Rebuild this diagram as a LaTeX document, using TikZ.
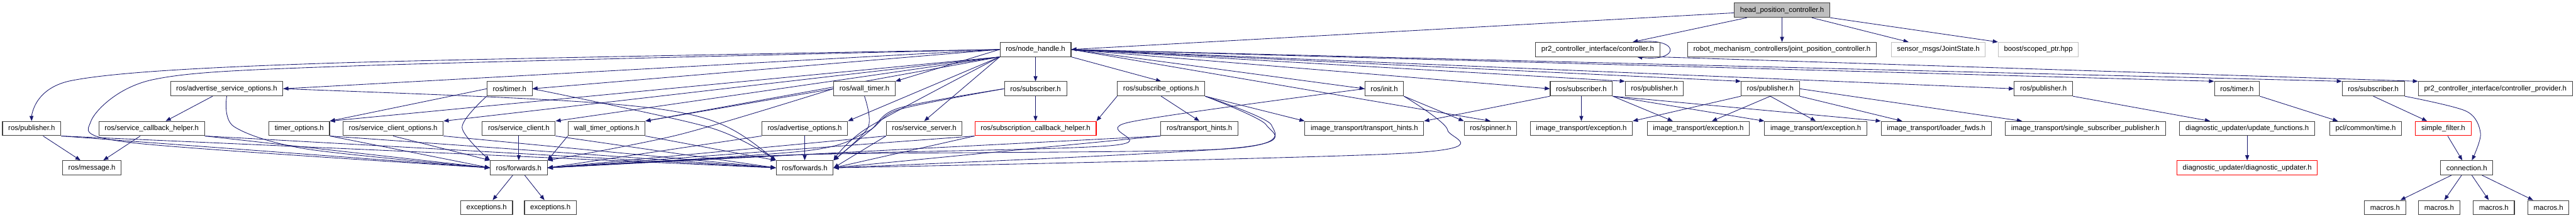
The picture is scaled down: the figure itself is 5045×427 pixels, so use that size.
\documentclass[tikz,border=0pt]{standalone}
\usepackage{fontspec}
\setmainfont{Liberation Sans}
\usetikzlibrary{arrows.meta,backgrounds}
\definecolor{edgeblue}{RGB}{25,25,112}
\definecolor{boxgray}{RGB}{191,191,191}

\begin{document}
\begin{tikzpicture}[x=0.3mm,y=-0.3mm,
  hdr/.style={draw=black!75,line width=1.1pt,fill=white,font=\fontsize{12}{14}\selectfont,
    inner xsep=3.4mm,inner ysep=0pt,minimum height=8.4mm},
  extern/.style={hdr,draw=boxgray},
  missing/.style={hdr,draw=red},
  dep/.style={edgeblue,line width=0.9pt,-{Triangle[length=3mm,width=2.3mm]}}]
  \useasboundingbox (0,0) rectangle (5045,427);

  \node[hdr,fill=boxgray] (hpc) at (3490,20) {head\_position\_controller.h};

  \node[hdr] (nh) at (2028,97) {ros/node\_handle.h};
  \node[hdr] (ctrl) at (3129,97) {pr2\_controller\_interface/controller.h};
  \node[hdr] (jpc) at (3490,97) {robot\_mechanism\_controllers/joint\_position\_controller.h};
  \node[extern] (jstate) at (3796,97) {sensor\_msgs/JointState.h};
  \node[extern] (sptr) at (3992,97) {boost/scoped\_ptr.hpp};

  \node[hdr] (aso) at (444,174) {ros/advertise\_service\_options.h};
  \node[hdr] (tmrA) at (998,174) {ros/timer.h};
  \node[hdr] (wtmr) at (1693,174) {ros/wall\_timer.h};
  \node[hdr] (subA) at (2028,174) {ros/subscriber.h};
  \node[hdr] (subopt) at (2274,174) {ros/subscribe\_options.h};
  \node[hdr] (rinit) at (2711,174) {ros/init.h};
  \node[hdr] (subB) at (3097,174) {ros/subscriber.h};
  \node[hdr] (pubB) at (3240,174) {ros/publisher.h};
  \node[hdr] (pubC) at (3467,174) {ros/publisher.h};
  \node[hdr] (pubD) at (4002,174) {ros/publisher.h};
  \node[hdr] (tmrB) at (4381,174) {ros/timer.h};
  \node[hdr] (subC) at (4648,174) {ros/subscriber.h};
  \node[hdr] (cprov) at (4887,174) {pr2\_controller\_interface/controller\_provider.h};

  \node[hdr] (pubA) at (62,252) {ros/publisher.h};
  \node[hdr] (srvcb) at (297,252) {ros/service\_callback\_helper.h};
  \node[hdr] (tmropt) at (586,252) {timer\_options.h};
  \node[hdr] (sclopt) at (770,252) {ros/service\_client\_options.h};
  \node[hdr] (scl) at (1016,252) {ros/service\_client.h};
  \node[hdr] (wtmropt) at (1188,252) {wall\_timer\_options.h};
  \node[hdr] (advopt) at (1576,252) {ros/advertise\_options.h};
  \node[hdr] (ssrv) at (1810,252) {ros/service\_server.h};
  \node[missing] (subcb) at (2028,252) {ros/subscription\_callback\_helper.h};
  \node[hdr] (rth) at (2349,252) {ros/transport\_hints.h};
  \node[hdr] (ith) at (2672,252) {image\_transport/transport\_hints.h};
  \node[hdr] (spin) at (2919,252) {ros/spinner.h};
  \node[hdr] (itexA) at (3097,252) {image\_transport/exception.h};
  \node[hdr] (itexB) at (3326,252) {image\_transport/exception.h};
  \node[hdr] (itexC) at (3556,252) {image\_transport/exception.h};
  \node[hdr] (ldr) at (3792,252) {image\_transport/loader\_fwds.h};
  \node[hdr] (ssp) at (4084,252) {image\_transport/single\_subscriber\_publisher.h};
  \node[hdr] (updfn) at (4401,252) {diagnostic\_updater/update\_functions.h};
  \node[hdr] (pcltime) at (4633,252) {pcl/common/time.h};
  \node[missing] (sfilt) at (4785,252) {simple\_filter.h};

  \node[hdr] (msg) at (180,329) {ros/message.h};
  \node[hdr] (fwdA) at (1016,329) {ros/forwards.h};
  \node[hdr] (fwdB) at (1576,329) {ros/forwards.h};
  \node[missing] (diag) at (4401,329) {diagnostic\_updater/diagnostic\_updater.h};
  \node[hdr] (conn) at (4831,329) {connection.h};

  \node[hdr] (exc1) at (953,407) {exceptions.h};
  \node[hdr] (exc2) at (1078,407) {exceptions.h};
  \foreach \i/\x in {1/4671,2/4777,3/4884,4/4991}
    \node[hdr] (mac\i) at (\x,407) {macros.h};

  \begin{scope}[on background layer]
  \draw[dep] (hpc) -- (nh.east);
  \draw[dep] (hpc) -- (ctrl);
  \draw[dep] (hpc) -- (jpc);
  \draw[dep] (hpc) -- (jstate);
  \draw[dep] (hpc.south east) -- (sptr.north west);
  \draw[dep] ([xshift=-13.5mm]ctrl.north east) .. controls +(85,-10) and +(85,10) .. ([xshift=-13.5mm]ctrl.south east);
  \draw[dep] (ctrl.south east) -- (cprov.north west);

  \draw[dep] plot[smooth] coordinates {(nh.west) (640,124) (140,158) (pubA.north)};
  \draw[dep] plot[smooth] coordinates {(nh.west) (700,129) (300,156) (178,238) (260,280) (fwdA.west)};
  \draw[dep] plot[smooth] coordinates {(nh.south west) (1700,250) (fwdB.north east)};
  \draw[dep] (nh.west) -- (aso.east);
  \draw[dep] (nh.west) -- (tmrA.east);
  \draw[dep] (nh.west) -- (wtmr.north east);
  \draw[dep] (nh.south west) -- (tmropt.north east);
  \draw[dep] (nh.south west) -- (sclopt.north east);
  \draw[dep] (nh.south west) -- (scl.north east);
  \draw[dep] (nh.south west) -- (wtmropt.north east);
  \draw[dep] (nh.south west) -- (advopt.north east);
  \draw[dep] (nh.south west) -- (ssrv.north);
  \draw[dep] (nh) -- (subA);
  \draw[dep] (nh.south east) -- (subopt.north);
  \draw[dep] (nh.east) -- (rinit.west);
  \draw[dep] (nh.east) -- (spin.north);
  \draw[dep] (nh.east) -- (subB.west);
  \draw[dep] (nh.east) -- (pubB.north west);
  \draw[dep] (nh.east) -- (pubC.north west);
  \draw[dep] (nh.east) -- (pubD.west);
  \draw[dep] (nh.east) -- (tmrB.north west);
  \draw[dep] (nh.east) -- (subC.north west);

  \draw[dep] (aso) -- (srvcb);
  \draw[dep] plot[smooth] coordinates {(aso.south) (458,248) (600,292) (fwdA.west)};
  \draw[dep] (aso.east) .. controls (1380,205) .. (fwdB.north west);
  \draw[dep] (pubA) -- (msg);
  \draw[dep] (pubA.south east) -- (fwdA.west);
  \draw[dep] (pubA.south east) -- (fwdB.west);
  \draw[dep] (srvcb) -- (msg);
  \draw[dep] (srvcb.south east) -- (fwdA.west);
  \draw[dep] (srvcb.south east) -- (fwdB.west);
  \draw[dep] (tmrA.west) -- (tmropt.north east);
  \draw[dep] plot[smooth] coordinates {(tmrA.south west) (905,250) (fwdA.north west)};
  \draw[dep] plot[smooth] coordinates {(tmrA.east) (1390,250) (fwdB.north west)};
  \draw[dep] (tmropt.south east) -- (fwdA.west);
  \draw[dep] (tmropt.south east) -- (fwdB.west);
  \draw[dep] (sclopt.south) -- (fwdA.north west);
  \draw[dep] (sclopt.south east) -- (fwdB.west);
  \draw[dep] (scl) -- (fwdA);
  \draw[dep] (scl.south east) -- (fwdB.west);
  \draw[dep] (wtmropt.south west) -- (fwdA.north east);
  \draw[dep] (wtmropt.south east) -- (fwdB.north west);
  \draw[dep] (wtmr.west) -- (wtmropt.north east);
  \draw[dep] plot[smooth] coordinates {(wtmr.west) (1330,264) (fwdA.north east)};
  \draw[dep] plot[smooth] coordinates {(wtmr.south) (1700,250) (fwdB.north east)};
  \draw[dep] (advopt) -- (fwdB);
  \draw[dep] (advopt.south west) -- (fwdA.east);
  \draw[dep] (ssrv.south west) -- (fwdB.east);
  \draw[dep] (ssrv.south west) -- (fwdA.east);
  \draw[dep] (subA) -- (subcb);
  \draw[dep] plot[smooth] coordinates {(subA.west) (1760,215) (1698,258) (1576,296) (fwdA.east)};
  \draw[dep] plot[smooth] coordinates {(subA.west) (1760,212) (1705,255) (fwdB.north east)};
  \draw[dep] (subopt.south west) -- (subcb.north east);
  \draw[dep] (subopt.south) -- (rth.north);
  \draw[dep] (subopt.south east) -- (ith.north west);
  \draw[dep] plot[smooth] coordinates {(subopt.south east) (2480,245) (2420,290) (fwdB.east)};
  \draw[dep] plot[smooth] coordinates {(subopt.south east) (2490,245) (2400,292) (1576,303) (fwdA.east)};
  \draw[dep] (subcb.south west) -- (fwdB.east);
  \draw[dep] (subcb.south west) -- (fwdA.east);
  \draw[dep] (rth.south west) -- (fwdB.east);
  \draw[dep] (rth.south west) -- (fwdA.east);
  \draw[dep] (rinit.south east) -- (spin.north west);
  \draw[dep] plot[smooth] coordinates {(rinit.south east) (2835,255) (2760,300) (fwdB.east)};
  \draw[dep] plot[smooth] coordinates {(rinit.west) (2210,240) (2180,285) (1576,303) (fwdA.east)};
  \draw[dep] (fwdA) -- (exc1);
  \draw[dep] (fwdA) -- (exc2);

  \draw[dep] (subB) -- (itexA);
  \draw[dep] (subB.south east) -- ([xshift=-15mm]itexB.north);
  \draw[dep] (subB.south east) -- (itexC.north west);
  \draw[dep] (subB.south east) -- (ldr.north west);
  \draw[dep] (subB.south west) -- (ith.north east);
  \draw[dep] (pubC.south west) -- (itexA.north east);
  \draw[dep] (pubC.south) -- ([xshift=8mm]itexB.north);
  \draw[dep] (pubC.south) -- (itexC.north);
  \draw[dep] (pubC.south east) -- ([xshift=-20mm]ldr.north);
  \draw[dep] (pubC.east) -- ([xshift=10mm]ssp.north west);
  \draw[dep] (pubD.south east) -- ([xshift=18mm]updfn.north west);
  \draw[dep] (updfn) -- (diag);
  \draw[dep] (tmrB.south east) -- ([xshift=5mm]pcltime.north west);
  \draw[dep] (subC.south) -- ([xshift=7mm]sfilt.north west);
  \draw[dep] plot[smooth] coordinates {(subC.south east) (4830,218) (4858,262) ([xshift=3mm]conn.north)};
  \draw[dep] (sfilt) -- (conn);
  \foreach \i in {1,...,4}
    \draw[dep] (conn) -- (mac\i);
  \end{scope}
\end{tikzpicture}
\end{document}
